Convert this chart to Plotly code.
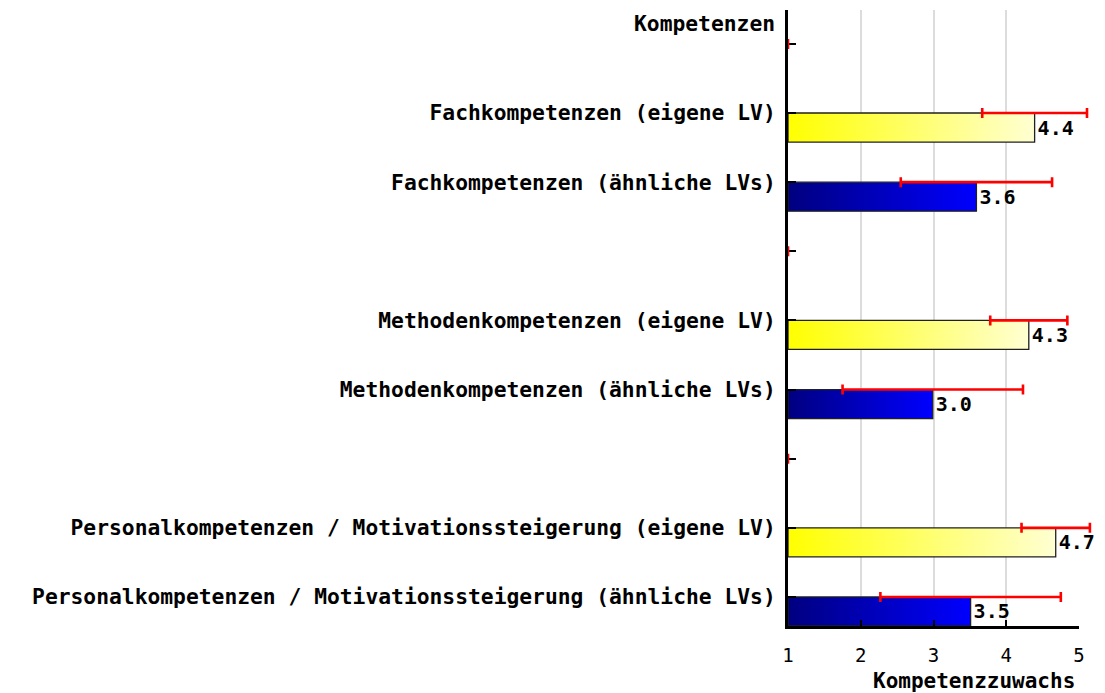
import plotly.graph_objects as go

# ---- data ----
groups = ["Fachkompetenzen", "Methodenkompetenzen", "Personalkompetenzen / Motivationssteigerung"]
series_names = ["eigene LV", "ähnliche LVs"]
mean_eigene = [4.39, 4.31, 4.68]
mean_aehnlich = [3.59, 2.99, 3.51]
sd_eigene = [0.72, 0.53, 0.47]
sd_aehnlich = [1.04, 1.24, 1.24]
y_title = "Kompetenzen"
x_title = "Kompetenzzuwachs"
x_ticks = [1, 2, 3, 4, 5]

# ---- layout helpers ----
FONT = "DejaVu Sans Mono"
BAR_W = 0.42
AXIS_MIN, AXIS_MAX = 1, 5
PLOT_L, PLOT_R_AXIS, PLOT_R_EXT = 788, 1079, 1103   # pixel extents
dom_main = (PLOT_R_AXIS - PLOT_L) / (PLOT_R_EXT - PLOT_L)
x2_max = AXIS_MIN + (AXIS_MAX - AXIS_MIN) / dom_main

rows_pos, rows_lab = [], []
eig_pos, aeh_pos, hdr_pos = [], [], []
for k, g in enumerate(groups):
    hdr_pos.append(3 * k)
    eig_pos.append(3 * k + 1)
    aeh_pos.append(3 * k + 2)
    rows_pos += [3 * k, 3 * k + 1, 3 * k + 2]
    rows_lab += ["", f"{g} ({series_names[0]})", f"{g} ({series_names[1]})"]

fig = go.Figure()

yellow_scale = [[0, "#ffff00"], [1, "#ffffd2"]]
blue_scale = [[0, "#000080"], [1, "#0000ff"]]

def add_bars(means, pos, scale):
    # gradient-filled bar bodies
    for v, p in zip(means, pos):
        fig.add_trace(go.Scatter(
            x=[AXIS_MIN, v, v, AXIS_MIN, AXIS_MIN],
            y=[p, p, p + BAR_W, p + BAR_W, p],
            mode="lines", fill="toself",
            fillgradient=dict(type="horizontal", colorscale=scale, start=AXIS_MIN, stop=v),
            line=dict(color="#202020", width=1.3),
            hoverinfo="skip", showlegend=False,
        ))
    # value labels
    fig.add_trace(go.Bar(
        orientation="h",
        y=pos, x=[v - AXIS_MIN for v in means], base=AXIS_MIN,
        width=BAR_W, offset=0,
        marker=dict(color="rgba(0,0,0,0)", line=dict(width=0)),
        text=[f"{v:.1f}" for v in means], texttemplate="%{text}",
        textposition="outside", constraintext="none", cliponaxis=False,
        textfont=dict(family=FONT, size=20, color="black", weight="bold"),
        showlegend=False,
    ))

add_bars(mean_eigene, eig_pos, yellow_scale)
add_bars(mean_aehnlich, aeh_pos, blue_scale)

# error bars (on a wider, invisible x axis with identical scale so they are not clipped at 5)
err_kw = dict(type="data", color="#ff0000", thickness=2.6, width=5, visible=True)
fig.add_trace(go.Scatter(
    x=mean_eigene + mean_aehnlich + [AXIS_MIN] * len(hdr_pos),
    y=eig_pos + aeh_pos + hdr_pos,
    xaxis="x2", yaxis="y",
    mode="markers", marker=dict(size=1, opacity=0),
    error_x=dict(array=sd_eigene + sd_aehnlich + [0] * len(hdr_pos), **err_kw),
    cliponaxis=False, showlegend=False, hoverinfo="skip",
))

fig.update_layout(
    width=1105, height=693, autosize=False,
    margin=dict(l=PLOT_L, r=1105 - PLOT_R_EXT, t=10, b=67, autoexpand=False),
    paper_bgcolor="white", plot_bgcolor="rgba(0,0,0,0)",
    showlegend=False,
    xaxis=dict(
        domain=[0, dom_main], anchor="y", automargin=False,
        range=[AXIS_MIN, AXIS_MAX], tickvals=x_ticks, ticktext=[str(t) for t in x_ticks],
        showgrid=True, gridcolor="#dcdcdc", gridwidth=2,
        zeroline=False, showline=True, linecolor="black", linewidth=2.5,
        ticks="inside", ticklen=6, tickwidth=2, tickcolor="black",
        tickfont=dict(family=FONT, size=19, color="black"),
        ticklabelstandoff=10,
    ),
    xaxis2=dict(
        domain=[0, 1], anchor="y", range=[AXIS_MIN, x2_max], automargin=False,
        visible=False, showgrid=False, zeroline=False, fixedrange=True,
    ),
    yaxis=dict(
        anchor="x", automargin=False,
        range=[8.42, -0.49], tickvals=rows_pos, ticktext=rows_lab,
        showgrid=False, zeroline=False, showline=True, linecolor="black", linewidth=3,
        ticks="inside", ticklen=8, tickwidth=2, tickcolor="black",
        tickfont=dict(family=FONT, size=21.3, color="black", weight="bold"),
        ticklabelstandoff=5,
    ),
    annotations=[
        dict(text=y_title, xref="paper", x=0, xanchor="right", xshift=-11,
             yref="y", y=-0.29, yanchor="middle", showarrow=False,
             font=dict(family=FONT, size=21.3, color="black", weight="bold")),
        dict(text=x_title, xref="x", x=AXIS_MAX, xanchor="right", xshift=-2,
             yref="paper", y=0, yanchor="middle", yshift=-55, showarrow=False,
             font=dict(family=FONT, size=21, color="black", weight="bold")),
    ],
)

fig.write_html(
    "out.html",
    config={"responsive": False, "displayModeBar": False},
    post_script="document.body.style.margin='0px';",
)
